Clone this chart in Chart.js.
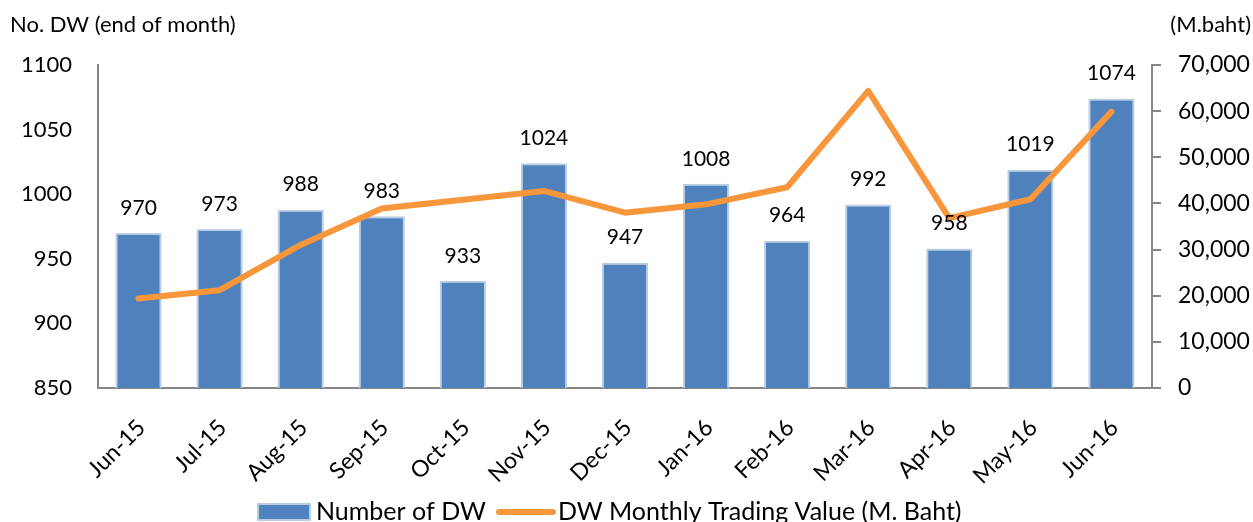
<!DOCTYPE html>
<html>
<head>
<meta charset="utf-8">
<script src="https://cdn.jsdelivr.net/npm/chart.js@4.4.0/dist/chart.umd.min.js"></script>
<style>
  html, body { margin: 0; padding: 0; background: #fff; }
  #wrap { width: 1253px; height: 522px; position: relative; }
</style>
</head>
<body>
<div id="wrap"><canvas id="chart"></canvas></div>
<script>
'use strict'

const months = ['Jun-15', 'Jul-15', 'Aug-15', 'Sep-15', 'Oct-15', 'Nov-15', 'Dec-15',
  'Jan-16', 'Feb-16', 'Mar-16', 'Apr-16', 'May-16', 'Jun-16']
const dwCount = [970, 973, 988, 983, 933, 1024, 947, 1008, 964, 992, 958, 1019, 1074]
const tradingValue = [19400, 21200, 31000, 38900, 40800, 42700, 38000, 39800, 43500,
  64400, 36800, 40900, 59900]
const leftTicks = [850, 900, 950, 1000, 1050, 1100]
const rightTicks = [0, 10000, 20000, 30000, 40000, 50000, 60000, 70000]

const FONT = 'Lato, "Open Sans", sans-serif'
const BAR_COLOR = '#4F81BD'
const BAR_EDGE = '#B9CDE5'
const LINE_COLOR = '#F7963A'
const AXIS_COLOR = '#868686'

const extras = {
  id: 'extras',
  afterDatasetsDraw (chart) {
    const { ctx } = chart
    const meta = chart.getDatasetMeta(0)
    ctx.save()
    ctx.fillStyle = '#000'
    ctx.font = '21px ' + FONT
    ctx.textAlign = 'center'
    ctx.textBaseline = 'middle'
    meta.data.forEach((bar, i) => {
      ctx.fillText(String(dwCount[i]), bar.x, bar.y - 25)
    })
    ctx.restore()
  },
  afterDraw (chart) {
    const { ctx } = chart
    ctx.save()
    ctx.fillStyle = '#000'
    ctx.font = '22px ' + FONT
    ctx.textBaseline = 'middle'
    ctx.textAlign = 'left'
    ctx.fillText('No. DW (end of month)', 10, 25)
    ctx.textAlign = 'right'
    ctx.fillText('(M.baht)', 1251, 25)

    // legend
    const ly = 512
    ctx.fillStyle = BAR_COLOR
    ctx.fillRect(258, ly - 8, 52, 16)
    ctx.strokeStyle = BAR_EDGE
    ctx.lineWidth = 2
    ctx.strokeRect(258, ly - 8, 52, 16)
    ctx.strokeStyle = LINE_COLOR
    ctx.lineWidth = 6
    ctx.lineCap = 'round'
    ctx.beginPath()
    ctx.moveTo(499, ly)
    ctx.lineTo(553, ly)
    ctx.stroke()
    ctx.fillStyle = '#000'
    ctx.font = '25px ' + FONT
    ctx.textAlign = 'left'
    ctx.fillText(chart.data.datasets[0].label, 316, ly)
    ctx.fillText(chart.data.datasets[1].label, 558, ly)
    ctx.restore()
  }
}

new Chart(document.getElementById('chart'), {
  data: {
    labels: months,
    datasets: [
      {
        type: 'bar',
        label: 'Number of DW',
        data: dwCount,
        yAxisID: 'y',
        backgroundColor: BAR_COLOR,
        borderColor: BAR_EDGE,
        borderWidth: 2,
        borderSkipped: 'bottom',
        barPercentage: 0.57,
        categoryPercentage: 1,
        order: 2
      },
      {
        type: 'line',
        label: 'DW Monthly Trading Value (M. Baht)',
        data: tradingValue,
        yAxisID: 'y1',
        borderColor: LINE_COLOR,
        borderWidth: 6,
        borderCapStyle: 'round',
        borderJoinStyle: 'round',
        pointRadius: 0,
        tension: 0,
        order: 1
      }
    ]
  },
  options: {
    responsive: true,
    maintainAspectRatio: false,
    animation: false,
    layout: {
      padding: { top: 65, left: 0, right: 0, bottom: 0 }
    },
    plugins: {
      legend: { display: false },
      tooltip: { enabled: false }
    },
    scales: {
      x: {
        offset: true,
        grid: { display: false },
        border: { display: true, color: AXIS_COLOR, width: 2 },
        ticks: {
          color: '#000',
          font: { family: FONT, size: 23 },
          maxRotation: 45,
          minRotation: 45,
          padding: 18,
          labelOffset: 3,
          autoSkip: false
        },
        afterFit: (s) => { s.height = 134 }
      },
      y: {
        position: 'left',
        min: 850,
        max: 1100,
        grid: { display: false, drawTicks: false },
        border: { display: true, color: AXIS_COLOR, width: 2 },
        afterBuildTicks: (s) => { s.ticks = leftTicks.map(v => ({ value: v })) },
        ticks: {
          color: '#000',
          font: { family: FONT, size: 22 },
          padding: 26,
          callback: (v) => String(v)
        },
        afterFit: (s) => { s.width = 98 }
      },
      y1: {
        position: 'right',
        min: 0,
        max: 70000,
        grid: {
          display: true,
          drawOnChartArea: false,
          drawTicks: true,
          tickLength: 9,
          color: AXIS_COLOR,
          lineWidth: 2
        },
        border: { display: true, color: AXIS_COLOR, width: 2 },
        afterBuildTicks: (s) => { s.ticks = rightTicks.map(v => ({ value: v })) },
        ticks: {
          color: '#000',
          font: { family: FONT, size: 23 },
          padding: 17,
          callback: (v) => v.toLocaleString('en-US')
        },
        afterFit: (s) => { s.width = 101 }
      }
    }
  },
  plugins: [extras]
})
</script>
</body>
</html>
